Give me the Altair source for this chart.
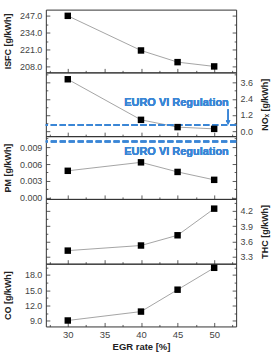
import altair as alt
import pandas as pd

# ---- data ----
egr = [30, 40, 45, 50]
isfc = [247.0, 220.3, 211.3, 208.0]
nox = [3.85, 0.84, 0.30, 0.17]
pm = [0.0048, 0.0063, 0.0046, 0.0032]
thc = [3.42, 3.52, 3.72, 4.24]
co = [9.05, 10.8, 15.1, 19.4]

euro_nox = 0.46
euro_pm = 0.01

x_major = [30, 35, 40, 45, 50]
x_minor = [27.5, 32.5, 37.5, 42.5, 47.5, 52.5]

isfc_ticks = [208.0, 221.0, 234.0, 247.0]
isfc_minor = [214.5, 227.5, 240.5]
nox_ticks = [0.0, 1.2, 2.4, 3.6]
nox_minor = [0.6, 1.8, 3.0, 4.2]
pm_ticks = [0.0, 0.003, 0.006, 0.009]
pm_minor = [0.0015, 0.0045, 0.0075, 0.0105]
thc_ticks = [3.3, 3.6, 3.9, 4.2]
thc_minor = [3.45, 3.75, 4.05, 4.35]
co_ticks = [9.0, 12.0, 15.0, 18.0]
co_minor = [10.5, 13.5, 16.5, 19.5]

df = pd.DataFrame({"egr": egr, "isfc": isfc, "nox": nox, "pm": pm, "thc": thc, "co": co})

FONT = "Liberation Sans"
FRAME = "#333333"
BLUE = "#3a86d6"
W = 191
X_DOMAIN = [27, 53]


def tick_axis(orient, values, size):
    return alt.Axis(orient=orient, values=values, tickSize=size, offset=-size,
                    labels=False, domain=False, grid=False, title=None,
                    ticks=True, tickColor=FRAME, tickWidth=0.8)


def panel(field, title, side, domain, ticks, minor, fmt, h, last=False, extra=None):
    xs = alt.Scale(domain=X_DOMAIN, nice=False, zero=False)
    ys = alt.Scale(domain=domain, nice=False, zero=False)
    tx = -38 if side == "left" else 28
    main_y = alt.Axis(orient=side, values=ticks, format=fmt, ticks=False, domain=False,
                      grid=False, labelFont=FONT, labelFontSize=9, labelColor="#444444",
                      labelPadding=4, labelOverlap=False, title=title, titleFont=FONT,
                      titleFontSize=9, titleFontWeight="bold", titleColor="#222222",
                      titleAngle=270, titleAlign="center", titleBaseline="middle",
                      titleX=tx, titleY=h / 2)
    y_axes = [main_y,
              tick_axis("left", ticks, 4), tick_axis("left", minor, 2),
              tick_axis("right", ticks, 4), tick_axis("right", minor, 2)]
    x_axes = [tick_axis("bottom", x_major, 4), tick_axis("bottom", x_minor, 2)]
    if last:
        x_axes.append(alt.Axis(orient="bottom", values=x_major, format="d", ticks=False,
                               domain=False, grid=False, labelFont=FONT, labelFontSize=9.5,
                               labelColor="#444444", labelPadding=3, labelFlush=False,
                               title="EGR rate [%]", titleFont=FONT, titleFontSize=9.5,
                               titleFontWeight="bold", titleColor="#222222", titlePadding=3))
    layers = []
    n = len(y_axes)
    for k in range(n):
        xa = x_axes[k] if k < len(x_axes) else None
        enc = dict(
            x=alt.X("egr:Q", scale=xs, axis=xa),
            y=alt.Y(f"{field}:Q", scale=ys, axis=y_axes[k]),
        )
        if k == 0:
            m = alt.Chart(df).mark_line(color="#9a9a9a", strokeWidth=0.9)
        elif k == n - 1:
            m = alt.Chart(df).mark_point(shape="square", filled=True, color="black",
                                         size=42, opacity=1)
        else:
            m = alt.Chart(df).mark_point(opacity=0)
        layers.append(m.encode(**enc))
    if extra:
        layers = layers[:1] + extra(xs, ys) + layers[1:]
    return alt.layer(*layers).resolve_axis(x="independent", y="independent").properties(
        width=W, height=h)


def euro(value, text_y, arrow=False):
    def build(xs, ys):
        out = [
            alt.Chart(df).mark_rule(color=BLUE, strokeWidth=2, strokeDash=[6, 3]).encode(
                y=alt.YDatum(value, scale=ys, axis=None)),
            alt.Chart(df).mark_text(text="EURO VI Regulation", color=BLUE, font=FONT,
                                    fontSize=11, fontWeight="bold", align="right",
                                    baseline="middle").encode(
                x=alt.XDatum(52.0, scale=xs, axis=None),
                y=alt.YDatum(text_y, scale=ys, axis=None)),
        ]
        if arrow:
            out.append(alt.Chart(df).mark_rule(color=BLUE, strokeWidth=1.2).encode(
                x=alt.XDatum(51.9, scale=xs, axis=None),
                y=alt.YDatum(1.63, scale=ys, axis=None),
                y2=alt.Y2Datum(0.7)))
            out.append(alt.Chart(df).mark_point(shape="triangle-down", filled=True,
                                                color=BLUE, size=20, opacity=1).encode(
                x=alt.XDatum(51.9, scale=xs, axis=None),
                y=alt.YDatum(0.64, scale=ys, axis=None)))
        return out
    return build


p1 = panel("isfc", "ISFC [g/kWh]", "left", [203.4, 251.8], isfc_ticks, isfc_minor, ".1f", 63)
p2 = panel("nox", "NOₓ [g/kWh]", "right", [-0.37, 4.36], nox_ticks, nox_minor, ".1f", 64,
           extra=euro(euro_nox, 2.1, arrow=True))
p3 = panel("pm", "PM [g/kWh]", "left", [-0.00018, 0.01094], pm_ticks, pm_minor, ".3f", 63,
           extra=euro(euro_pm, 0.0081))
p4 = panel("thc", "THC [g/kWh]", "right", [3.165, 4.43], thc_ticks, thc_minor, ".1f", 65)
p5 = panel("co", "CO [g/kWh]", "left", [7.88, 20.21], co_ticks, co_minor, ".1f", 63, last=True)

chart = alt.vconcat(p1, p2, p3, p4, p5, spacing=0, bounds="flush").properties(
    padding={"left": 3, "top": 8, "right": 2, "bottom": 0}
).configure_view(stroke=FRAME, strokeWidth=1)

chart.save("out.html", embed_options={"renderer": "svg", "actions": False})
